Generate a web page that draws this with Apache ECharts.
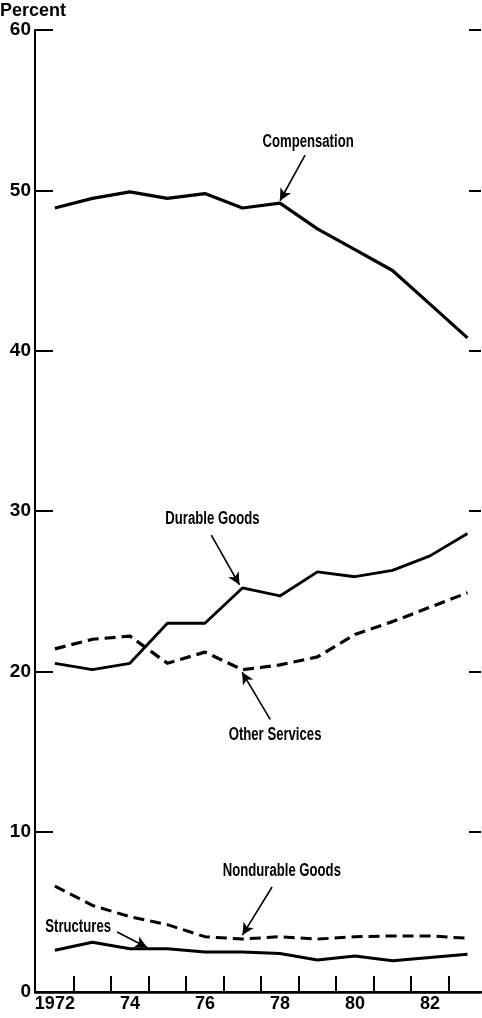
<!DOCTYPE html>
<html><head><meta charset="utf-8">
<script src="https://cdn.jsdelivr.net/npm/echarts@6/dist/echarts.min.js"></script>
<style>html,body{margin:0;padding:0;background:#fff}#c{width:482px;height:1018px}</style>
</head><body><div id="c"></div>
<script>
const years = [1972,1973,1974,1975,1976,1977,1978,1979,1980,1981,1982,1983];
const compensation    = [48.9,49.5,49.9,49.5,49.8,48.9,49.2,47.6,46.3,45.0,42.9,40.8];
const durableGoods    = [20.5,20.1,20.5,23.0,23.0,25.2,24.7,26.2,25.9,26.3,27.2,28.6];
const otherServices   = [21.4,22.0,22.2,20.5,21.2,20.1,20.4,20.9,22.3,23.1,24.0,24.9];
const nondurableGoods = [6.6,5.4,4.7,4.2,3.45,3.3,3.45,3.3,3.45,3.5,3.5,3.35];
const structures      = [2.6,3.1,2.7,2.7,2.5,2.5,2.4,2.0,2.25,1.95,2.15,2.35];
const xLabelYears = [1972,1974,1976,1978,1980,1982];
const xTickYears  = [1972.5,1973.5,1974.5,1975.5,1976.5,1977.5,1978.5,1979.5,1980.5,1981.5,1982.5];
const yTickValues = [0,10,20,30,40,50,60];

const annotations = [
  {name:'Compensation',     text:[1978.75,53.0], from:[1978.67,52.2], to:[1978.0,49.35]},
  {name:'Durable Goods',    text:[1976.2,29.5],  from:[1976.17,28.5], to:[1976.92,25.4]},
  {name:'Other Services',   text:[1977.87,16.0], from:[1977.74,17.0], to:[1976.99,19.95]},
  {name:'Nondurable Goods', text:[1978.05,7.55], from:[1977.79,6.55], to:[1977.0,3.55]},
  {name:'Structures',       text:[1972.62,4.05], from:[1973.66,3.74], to:[1974.46,2.78]}
];

const pair = arr => years.map((y,i)=>[y,arr[i]]);
const XMIN = 1971.47, XMAX = 1983.36;
const labelFont = {fontFamily:'Liberation Sans', fontWeight:'bold', fontSize:19, color:'#000'};

function lineSeries(name, arr, dashed, width){
  return {
    name, type:'line', data:pair(arr), symbol:'none', smooth:false,
    lineStyle:{color:'#000', width:width, type: dashed ? [11,6] : 'solid', cap:'butt', join:'round'},
    z:3, silent:true
  };
}

const chart = echarts.init(document.getElementById('c'));
chart.setOption({
  animation:false,
  backgroundColor:'#fff',
  title:{text:'Percent', left:0, top:2, padding:0,
    textStyle:{fontFamily:'Liberation Sans', fontWeight:'bold', fontSize:18, color:'#000'}},
  grid:{left:35, right:1, top:30, bottom:26, containLabel:false},
  xAxis:[
    {type:'value', min:XMIN, max:XMAX, position:'bottom',
      axisLine:{show:true, lineStyle:{color:'#000', width:2}},
      axisTick:{show:true, inside:true, length:16, customValues:xTickYears, lineStyle:{color:'#000', width:2}},
      axisLabel:{show:true, customValues:xLabelYears, margin:3, ...labelFont, fontSize:18,
        formatter:v => v===1972 ? '1972' : String(Math.round(v)%100)},
      splitLine:{show:false}},
    {type:'value', min:XMIN, max:XMAX, position:'top',
      axisLine:{show:true, lineStyle:{color:'#000', width:2.5}},
      axisTick:{show:false}, axisLabel:{show:false}, splitLine:{show:false}}
  ],
  yAxis:[
    {type:'value', min:0, max:60, interval:10, position:'left',
      axisLine:{show:true, lineStyle:{color:'#000', width:2}},
      axisTick:{show:true, inside:true, length:18, lineStyle:{color:'#000', width:2}},
      axisLabel:{show:true, margin:4, ...labelFont},
      splitLine:{show:false}},
    {type:'value', min:0, max:60, interval:10, position:'right',
      axisLine:{show:false},
      axisTick:{show:true, inside:true, length:12, lineStyle:{color:'#000', width:2}},
      axisLabel:{show:false}, splitLine:{show:false}}
  ],
  series:[
    lineSeries('Compensation', compensation, false, 3.2),
    lineSeries('Durable Goods', durableGoods, false, 2.8),
    lineSeries('Other Services', otherServices, true, 3.2),
    lineSeries('Nondurable Goods', nondurableGoods, true, 3),
    lineSeries('Structures', structures, false, 3),
    {
      name:'arrows', type:'line', data:[], symbol:'none',
      markLine:{silent:true, symbol:['none','arrow'], symbolSize:[9,12],
        label:{show:false},
        lineStyle:{color:'#000', width:1.6, type:'solid'},
        data:annotations.map(a=>[{coord:a.from},{coord:a.to}])},
      z:5, silent:true
    }
  ]
});

chart.setOption({
  graphic: annotations.map(a => {
    const p = chart.convertToPixel({xAxisIndex:0, yAxisIndex:0}, a.text);
    return {
      type:'text', x:p[0], y:p[1], scaleX:0.73, z:10, silent:true,
      style:{text:a.name, fill:'#000', font:'bold 18px "Liberation Sans"',
        textAlign:'center', textVerticalAlign:'middle'}
    };
  })
});
</script></body></html>
